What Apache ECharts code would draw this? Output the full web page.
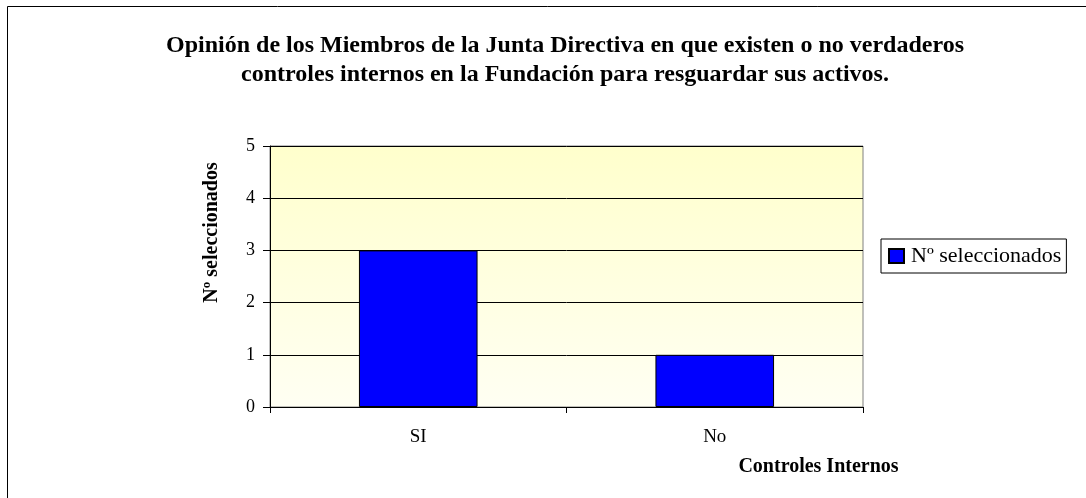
<!DOCTYPE html>
<html>
<head>
<meta charset="utf-8">
<script src="https://cdn.jsdelivr.net/npm/echarts@6/dist/echarts.min.js"></script>
<style>
  html, body { margin: 0; padding: 0; background: #fff; }
  #chart { width: 1086px; height: 498px; }
</style>
</head>
<body>
<div id="chart"></div>
<script>
const categories = ['SI', 'No'];
const seleccionados = [3, 1];
const yTicks = [0, 1, 2, 3, 4, 5];

const serif = '"Liberation Serif", "DejaVu Serif", serif';
const chart = echarts.init(document.getElementById('chart'));

const option = {
  backgroundColor: '#fff',
  animation: false,
  title: {
    text: 'Opinión de los Miembros de la Junta Directiva en que existen o no verdaderos\ncontroles internos en la Fundación para resguardar sus activos.',
    left: 560,
    top: 26,
    textAlign: 'center',
    textStyle: {
      fontFamily: serif,
      fontSize: 24,
      fontWeight: 'bold',
      color: '#000',
      lineHeight: 29
    }
  },
  // marco exterior del gráfico (cortado a la derecha y abajo)
  graphic: [{
    type: 'rect',
    shape: { x: 7.5, y: 6.5, width: 1200, height: 600 },
    style: { fill: 'none', stroke: '#000', lineWidth: 1 },
    silent: true
  }],
  legend: {
    data: ['Nº seleccionados'],
    left: 881,
    top: 239,
    orient: 'vertical',
    padding: [6, 5, 6, 7],
    borderColor: '#000',
    borderWidth: 1,
    itemWidth: 15,
    itemHeight: 14,
    itemGap: 0,
    icon: 'rect',
    textStyle: { fontFamily: serif, fontSize: 22, color: '#000', padding: [0, 0, 0, 2] }
  },
  grid: {
    left: 270,
    top: 146,
    width: 593,
    height: 261,
    show: true,
    borderColor: '#808080',
    borderWidth: 1,
    backgroundColor: new echarts.graphic.LinearGradient(0, 0, 0, 1, [
      { offset: 0, color: '#FFFFCC' },
      { offset: 1, color: '#FFFFF3' }
    ])
  },
  xAxis: {
    type: 'category',
    data: categories,
    boundaryGap: true,
    name: 'Controles Internos',
    nameLocation: 'middle',
    nameGap: 50,
    nameTextStyle: {
      fontFamily: serif, fontSize: 20, fontWeight: 'bold', color: '#000',
      padding: [0, 0, 0, 504]
    },
    axisLine: { lineStyle: { color: '#000', width: 1 } },
    axisTick: { show: true, alignWithLabel: false, length: 6, lineStyle: { color: '#000' } },
    axisLabel: { fontFamily: serif, fontSize: 19, color: '#000', margin: 21 }
  },
  yAxis: {
    type: 'value',
    min: 0,
    max: 5,
    interval: 1,
    name: 'Nº seleccionados',
    nameLocation: 'middle',
    nameGap: 48,
    nameTextStyle: {
      fontFamily: serif, fontSize: 20, fontWeight: 'bold', color: '#000',
      padding: [0, 0, 0, 88]
    },
    axisLine: { show: true, lineStyle: { color: '#000', width: 1 } },
    axisTick: { show: true, length: 7, lineStyle: { color: '#000' } },
    axisLabel: {
      fontFamily: serif, fontSize: 18, color: '#000', margin: 15,
      formatter: v => yTicks.includes(v) ? String(v) : ''
    },
    splitLine: { show: true, lineStyle: { color: '#000', width: 1 } }
  },
  series: [{
    name: 'Nº seleccionados',
    type: 'bar',
    data: seleccionados,
    barWidth: '40%',
    itemStyle: { color: '#0000FF', borderColor: '#000', borderWidth: 1 }
  }]
};

chart.setOption(option);
</script>
</body>
</html>
